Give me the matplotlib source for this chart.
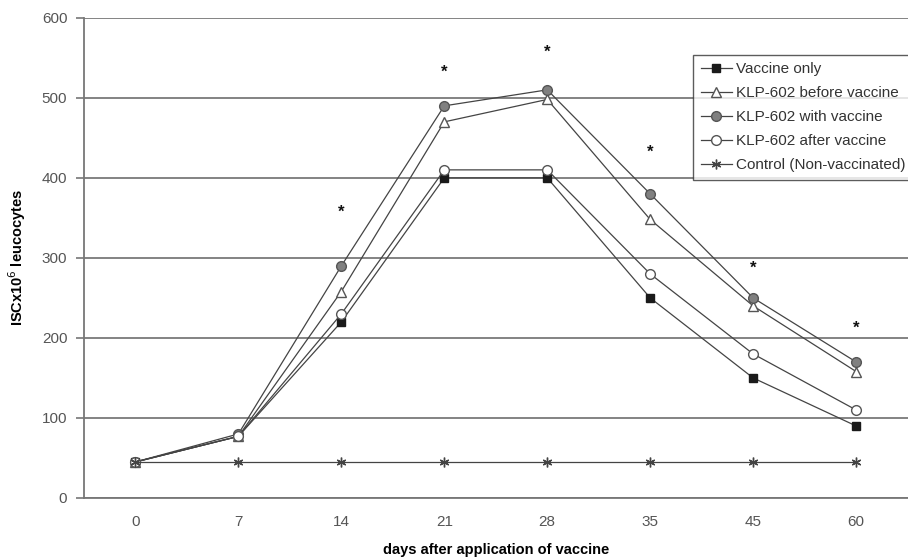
import matplotlib.pyplot as plt
import numpy as np

plt.rcParams['font.family'] = ['Liberation Sans', 'DejaVu Sans']

# data
days = ["0", "7", "14", "21", "28", "35", "45", "60"]
vaccine_only = [45, 77, 220, 400, 400, 250, 150, 90]
klp_before = [45, 77, 258, 470, 498, 348, 240, 158]
klp_with = [45, 80, 290, 490, 510, 380, 250, 170]
klp_after = [45, 77, 230, 410, 410, 280, 180, 110]
control = [45, 45, 45, 45, 45, 45, 45, 45]
# significance stars (y positions above the series)
star_days = ["14", "21", "28", "35", "45", "60"]
star_vals = [357, 532, 557, 432, 287, 212]

x = np.arange(len(days))

fig = plt.figure(figsize=(9.08, 5.57), dpi=100)
ax = fig.add_axes([0.0925, 0.106, 0.907, 0.862])

line_kw = dict(color="#444444", lw=0.9)
ax.plot(x, vaccine_only, marker="s", ms=5.5, mfc="#1a1a1a", mec="#1a1a1a",
        label="Vaccine only", **line_kw)
ax.plot(x, klp_before, marker="^", ms=7, mfc="white", mec="#555555",
        label="KLP-602 before vaccine", **line_kw)
ax.plot(x, klp_with, marker="o", ms=7, mfc="#808080", mec="#555555",
        label="KLP-602 with vaccine", **line_kw)
ax.plot(x, klp_after, marker="o", ms=7, mfc="white", mec="#555555",
        label="KLP-602 after vaccine", **line_kw)
ax.plot(x, control, marker=(6, 2, 0), ms=7, mec="#444444",
        label="Control (Non-vaccinated)", **line_kw)

sx = [days.index(d) for d in star_days]
for xi, v in zip(sx, star_vals):
    ax.text(xi, v, "*", ha="center", va="center", fontsize=12,
            fontweight="bold", color="#111111")

ax.set_xlim(-0.5, len(days) - 0.5)
ax.set_ylim(0, 600)
ax.set_yticks(np.arange(0, 601, 100))
ax.set_xticks(x)
ax.set_xticklabels(days)
ax.yaxis.grid(True, color="#7a7a7a", lw=1.3)
ax.set_axisbelow(True)
for s in ["top", "right"]:
    ax.spines[s].set_visible(False)
ax.spines["left"].set_color("#777777")
ax.spines["bottom"].set_color("#777777")
ax.spines["left"].set_linewidth(1.3)
ax.spines["bottom"].set_linewidth(1.3)
ax.tick_params(axis="y", colors="#777777", labelcolor="#555555",
               labelsize=11, length=6, width=1.2, pad=6)
ax.tick_params(axis="x", length=0, labelcolor="#555555", labelsize=11, pad=12)

ax.set_xlabel("days after application of vaccine", fontsize=10.5,
              fontweight="bold", labelpad=10)
ax.set_ylabel(r"ISCx10$^{6}$ leucocytes", fontsize=10.5, fontweight="bold",
              labelpad=10)

leg = ax.legend(loc="upper left", bbox_to_anchor=(0.74, 0.923), fontsize=11,
                frameon=True, fancybox=False, borderpad=0.5,
                labelspacing=0.65, handlelength=2.0, handletextpad=0.3,
                borderaxespad=0)
leg.get_frame().set_edgecolor("#333333")
leg.get_frame().set_linewidth(1.0)
for t in leg.get_texts():
    t.set_color("#333333")

fig.savefig("out.png", dpi=100)
